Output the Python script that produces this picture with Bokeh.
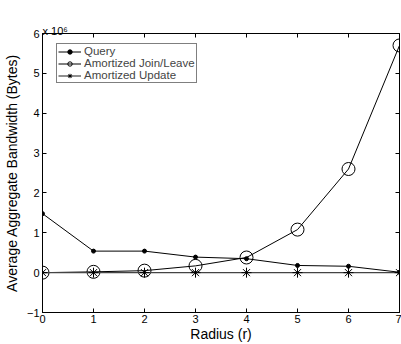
from bokeh.plotting import figure
from bokeh.models import LinearAxis, Range1d, FixedTicker, Legend, LegendItem
from bokeh.embed import file_html
from bokeh.resources import INLINE

radius = [0, 1, 2, 3, 4, 5, 6, 7]
query = [1.48, 0.54, 0.54, 0.39, 0.35, 0.18, 0.16, 0.01]
join_leave = [0.0, 0.02, 0.05, 0.17, 0.38, 1.08, 2.6, 5.7]
update = [0.0, 0.0, 0.0, 0.0, 0.0, 0.0, 0.0, 0.0]
x_ticks = [0, 1, 2, 3, 4, 5, 6, 7]
y_ticks = [-1, 0, 1, 2, 3, 4, 5, 6]

FONT = "Liberation Sans"

p = figure(width=401, height=344, output_backend="svg", toolbar_location=None,
           x_range=Range1d(0, 7), y_range=Range1d(-1, 6),
           min_border_left=42, min_border_right=2, min_border_top=33, min_border_bottom=31,
           title="x 10\u2076")
p.title.align = "left"
p.title.offset = 0
p.title.standoff = -7
p.title.text_font = FONT
p.title.text_font_size = "11px"
p.title.text_font_style = "normal"
p.title.text_color = "black"
p.grid.visible = False
p.outline_line_color = "black"
p.outline_line_width = 1
p.background_fill_color = "white"
p.border_fill_color = "white"

def style(ax):
    ax.major_tick_in = 4
    ax.major_tick_out = 0
    ax.minor_tick_in = 0
    ax.minor_tick_out = 0
    ax.axis_line_color = "black"
    ax.major_tick_line_color = "black"
    ax.major_label_text_font = FONT
    ax.major_label_text_font_size = "11px"
    ax.major_label_text_color = "black"
    ax.axis_label_text_font = FONT
    ax.axis_label_text_font_size = "14px"
    ax.axis_label_text_font_style = "normal"
    ax.axis_label_text_color = "black"

p.xaxis.ticker = FixedTicker(ticks=x_ticks)
p.yaxis.ticker = FixedTicker(ticks=y_ticks)
p.xaxis.axis_label = "Radius (r)"
p.yaxis.axis_label = "Average Aggregate Bandwidth (Bytes)"
style(p.xaxis[0])
style(p.yaxis[0])
p.xaxis.major_label_standoff = 2
p.yaxis.major_label_standoff = 3
p.xaxis.axis_label_standoff = 0
p.yaxis.axis_label_standoff = 4

top = LinearAxis(ticker=FixedTicker(ticks=x_ticks))
right = LinearAxis(ticker=FixedTicker(ticks=y_ticks))
style(top)
style(right)
for ax in (top, right):
    ax.major_label_text_color = None
    ax.major_label_text_font_size = "0px"
    ax.major_label_standoff = 0
    ax.axis_label_standoff = 0
p.add_layout(top, "above")
p.add_layout(right, "right")

lq = p.line(radius, query, line_color="black", line_width=1)
sq = p.scatter(radius, query, marker="circle", size=4, fill_color="black", line_color="black")
lj = p.line(radius, join_leave, line_color="black", line_width=1)
sj = p.scatter(radius, join_leave, marker="circle", size=13, fill_color=None, line_color="black")
lu = p.line(radius, update, line_color="#444444", line_width=1.2)
su = p.scatter(radius, update, marker="asterisk", size=10, line_color="black", line_width=1)

legend = Legend(items=[
    LegendItem(label="Query", renderers=[lq, sq]),
    LegendItem(label="Amortized Join/Leave", renderers=[lj, sj]),
    LegendItem(label="Amortized Update", renderers=[lu, su]),
], location=(14, 229))
legend.label_text_font = FONT
legend.label_text_font_size = "11.5px"
legend.label_height = 11
legend.glyph_height = 11
legend.glyph_width = 23
legend.label_standoff = 3
legend.spacing = 0
legend.padding = 1
legend.margin = 0
legend.border_line_color = "black"
legend.border_line_width = 1
legend.background_fill_alpha = 1
p.add_layout(legend, "center")

open("out.html", "w").write(file_html(p, INLINE))
